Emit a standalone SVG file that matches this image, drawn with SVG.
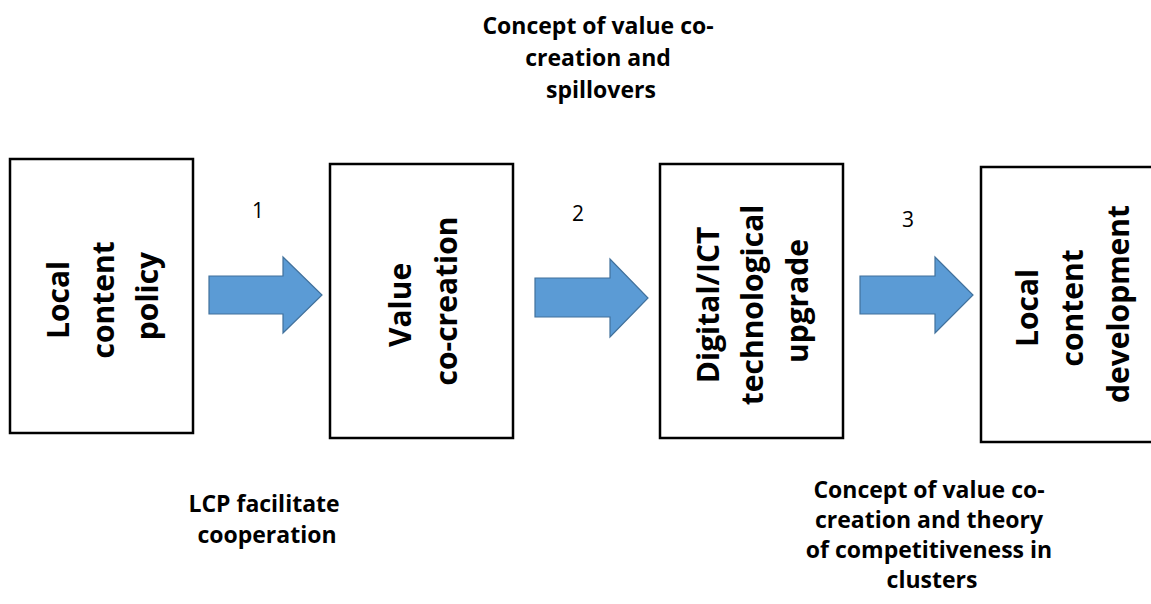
<svg xmlns="http://www.w3.org/2000/svg" width="1151" height="604" viewBox="0 0 1151 604">
  <style>
    .box { fill: #ffffff; stroke: #000000; stroke-width: 2.5; }
    .arrow { fill: #5B9BD5; stroke: #41719C; stroke-width: 1.2; }
    .label { font-family: "Open Sans", "Noto Sans", sans-serif; font-weight: bold; fill: #000; text-anchor: middle; }
    .big { font-size: 30px; }
    .note { font-size: 23px; }
    .num { font-family: "Open Sans", "Noto Sans", sans-serif; font-size: 21px; fill: #000; text-anchor: middle; }
  </style>
  <rect width="1151" height="604" fill="#ffffff"/>

  <g id="connectors">
    <polygon class="arrow" points="209,276 283,276 283,257 322,295 283,333 283,314 209,314"/>
    <polygon class="arrow" points="535,278 610,278 610,259 648,298 610,337 610,317 535,317"/>
    <polygon class="arrow" points="860,276 935,276 935,257 973,295 935,333 935,314 860,314"/>
    <text class="num" x="258" y="218">1</text>
    <text class="num" x="578" y="221">2</text>
    <text class="num" x="908" y="227">3</text>
  </g>

  <g id="node-local-content-policy">
    <rect class="box" x="10" y="159" width="183" height="274"/>
    <text class="label big" transform="translate(0,296) rotate(-90)">
      <tspan x="0" y="69">Local</tspan>
      <tspan x="0" y="114">content</tspan>
      <tspan x="0" y="158">policy</tspan>
    </text>
  </g>

  <g id="node-value-co-creation">
    <rect class="box" x="330" y="164" width="183" height="274"/>
    <text class="label big" transform="translate(0,301) rotate(-90)">
      <tspan x="0" y="411">Value</tspan>
      <tspan x="0" y="457">co-creation</tspan>
    </text>
  </g>

  <g id="node-digital-upgrade">
    <rect class="box" x="660" y="164" width="183" height="274"/>
    <text class="label big" transform="translate(0,301) rotate(-90)">
      <tspan x="0" y="719">Digital/ICT</tspan>
      <tspan x="0" y="763">technological</tspan>
      <tspan x="0" y="808">upgrade</tspan>
    </text>
  </g>

  <g id="node-local-content-development">
    <rect class="box" x="981" y="167" width="190" height="275"/>
    <text class="label big" transform="translate(0,304) rotate(-90)">
      <tspan x="0" y="1038">Local</tspan>
      <tspan x="0" y="1083">content</tspan>
      <tspan x="0" y="1129">development</tspan>
    </text>
  </g>

  <g id="note-spillovers">
    <text class="label note">
      <tspan x="601" y="34">Concept of value co-</tspan>
      <tspan x="601" y="66">creation and</tspan>
      <tspan x="601" y="98">spillovers</tspan>
    </text>
  </g>

  <g id="note-lcp">
    <text class="label note">
      <tspan x="267" y="512">LCP facilitate</tspan>
      <tspan x="267" y="543">cooperation</tspan>
    </text>
  </g>

  <g id="note-competitiveness">
    <text class="label note">
      <tspan x="932" y="498">Concept of value co-</tspan>
      <tspan x="932" y="528">creation and theory</tspan>
      <tspan x="932" y="558">of competitiveness in</tspan>
      <tspan x="932" y="588">clusters</tspan>
    </text>
  </g>
</svg>
